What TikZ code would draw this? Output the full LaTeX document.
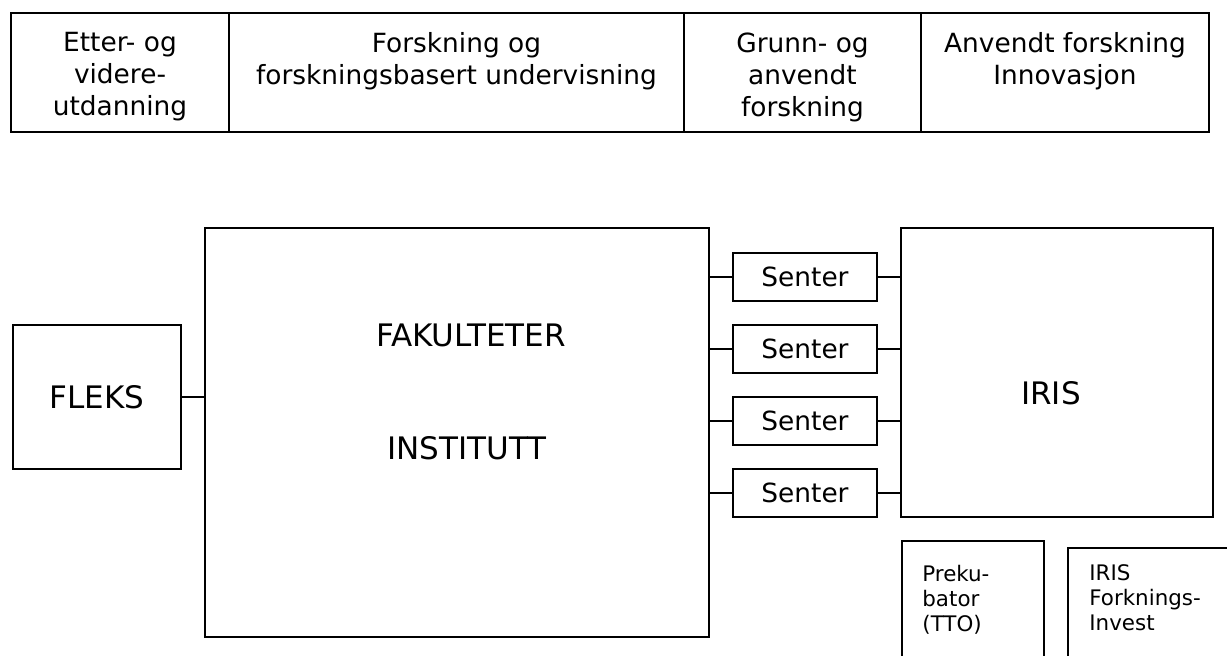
\documentclass[tikz,border=0pt]{standalone}
\usepackage{fontspec}
\setmainfont{DejaVu Sans}
\usetikzlibrary{positioning}

\begin{document}
\begin{tikzpicture}[x=0.5pt, y=-0.5pt,
    box/.style={draw, line width=1pt, inner sep=0pt, anchor=north west},
    link/.style={line width=1pt},
    txt/.style={font=\fontsize{13.2}{16}\selectfont, align=center, inner sep=0pt},
    big/.style={font=\fontsize{15.5}{18}\selectfont, inner sep=0pt},
    small/.style={font=\fontsize{10.7}{12.5}\selectfont, align=left, inner sep=0pt}]
  \useasboundingbox (0,0) rectangle (1227,655);
  \clip (0,0) rectangle (1227,655);

  % top row
  \node[box, minimum width=109pt, minimum height=59.5pt] (cell1) at (10,12) {};
  \node[box, minimum width=227.5pt, minimum height=59.5pt] (cell2) at (228,12) {};
  \node[box, minimum width=118.5pt, minimum height=59.5pt] (cell3) at (683,12) {};
  \node[box, minimum width=144pt, minimum height=59.5pt] (cell4) at (920,12) {};
  \node[txt, below=10pt of cell1.north] (etter) {Etter- og\\videre-\\utdanning};
  \node[txt, below=10pt of cell2.north] (forsk) {Forskning og\\forskningsbasert undervisning};
  \node[txt, below=10pt of cell3.north] (grunn) {Grunn- og\\anvendt\\forskning};
  \node[txt, below=10pt of cell4.north] (anvendt) {Anvendt forskning\\Innovasjon};

  % main boxes
  \node[box, big, minimum width=84pt, minimum height=72pt] (fleks) at (12,324) {FLEKS};
  \node[box, minimum width=252pt, minimum height=204.5pt] (fak) at (204,227) {};
  \node[big] (fakultet) at ([xshift=7pt, yshift=-54pt]fak.north) {FAKULTETER};
  \node[big] (institutt) at ([xshift=5pt, yshift=-110.5pt]fak.north) {INSTITUTT};
  \node[box, minimum width=156pt, minimum height=144.5pt] (iris) at (900,227) {};
  \node[big] (irislabel) at ([xshift=-3pt, yshift=-83pt]iris.north) {IRIS};

  \node[box, txt, minimum width=72pt, minimum height=24pt] (senter1) at (732,252) {Senter};
  \node[box, txt, minimum width=72pt, minimum height=24pt] (senter2) at (732,324) {Senter};
  \node[box, txt, minimum width=72pt, minimum height=24pt] (senter3) at (732,396) {Senter};
  \node[box, txt, minimum width=72pt, minimum height=24pt] (senter4) at (732,468) {Senter};

  % bottom right, cut by the edge
  \node[box, minimum width=71pt, minimum height=100pt] (preku) at (901,540) {};
  \node[box, minimum width=100pt, minimum height=100pt] (irisfi) at (1067,547) {};
  \node[small, below right=12.5pt and 10.5pt of preku.north west] (prekutxt) {Preku-\\bator\\(TTO)};
  \node[small, below right=8.5pt and 11pt of irisfi.north west] (irisfitxt) {IRIS\\Forknings-\\Invest};

  % connectors
  \draw[link] (fleks.east) -- (fleks.east -| fak.west);
  \draw[link] (senter1.west) -- (senter1.west -| fak.east);
  \draw[link] (senter2.west) -- (senter2.west -| fak.east);
  \draw[link] (senter3.west) -- (senter3.west -| fak.east);
  \draw[link] (senter4.west) -- (senter4.west -| fak.east);
  \draw[link] (senter1.east) -- (senter1.east -| iris.west);
  \draw[link] (senter2.east) -- (senter2.east -| iris.west);
  \draw[link] (senter3.east) -- (senter3.east -| iris.west);
  \draw[link] (senter4.east) -- (senter4.east -| iris.west);
\end{tikzpicture}
\end{document}
